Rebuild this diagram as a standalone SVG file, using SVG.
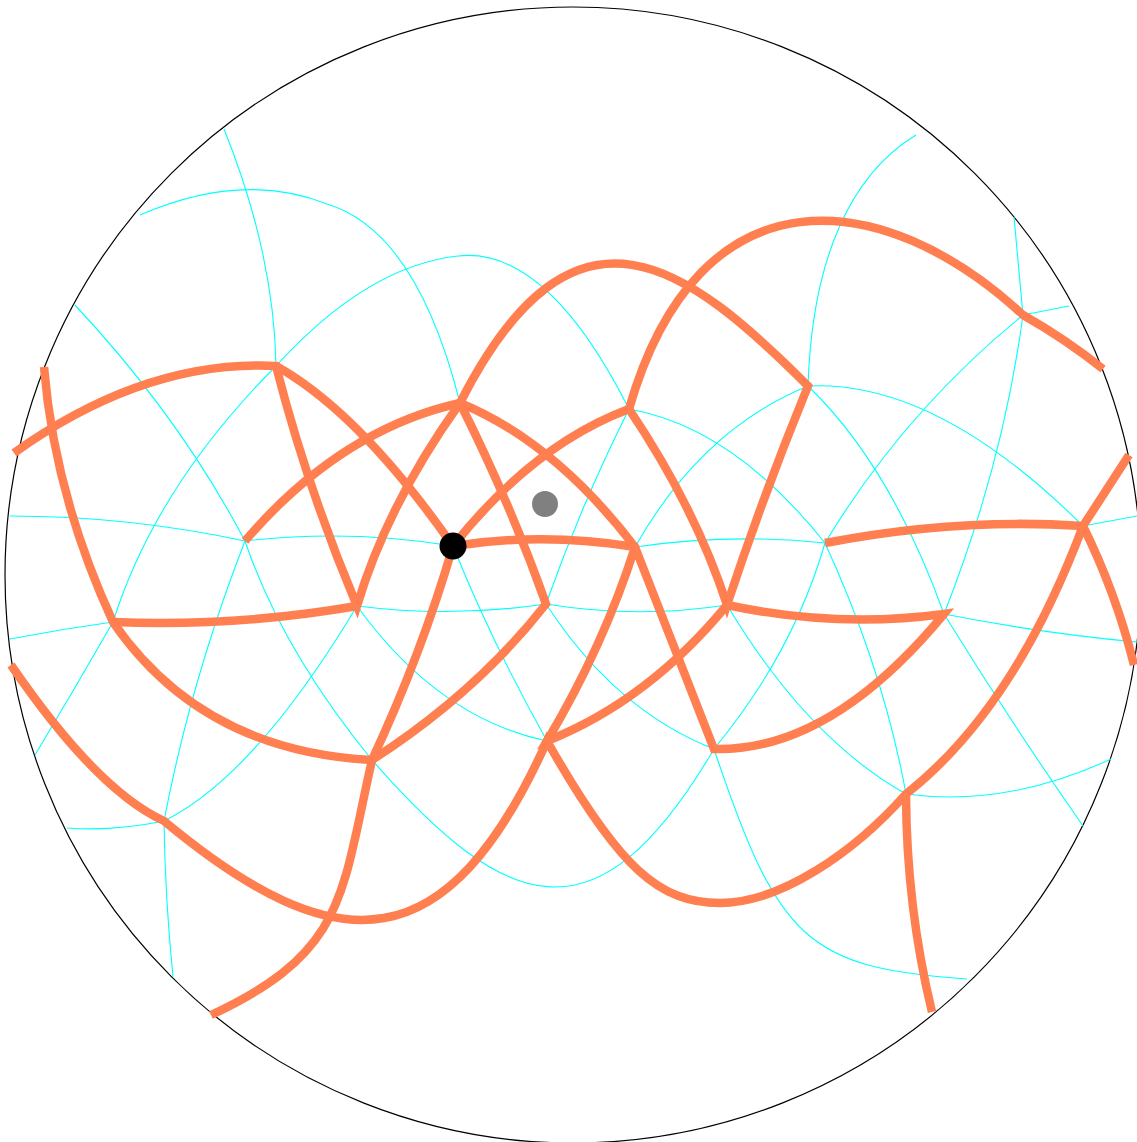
<svg xmlns="http://www.w3.org/2000/svg" width="1137" height="1142" viewBox="0 0 1137 1142">
<style>
.c{fill:none;stroke:#00ffff;stroke-width:1.1}
.o{fill:none;stroke:#ff7f50;stroke-width:8.5;stroke-linecap:butt;stroke-linejoin:miter}
</style>
<rect width="1137" height="1142" fill="#ffffff"/>
<circle cx="573" cy="575" r="568" fill="none" stroke="#000" stroke-width="1.2"/>
<g id="tiling">
<path class="c" d="M224,129 Q274,253 276,366"/>
<path class="c" d="M140,215 Q242.5,170.5 327,204 Q416.5,231 460,403"/>
<path class="c" d="M113,622 Q155.5,487 276,366"/>
<path class="c" d="M276,366 Q367,266 458,256 Q546.6,246 629,409"/>
<path class="c" d="M75,305 Q180,417.5 245,541"/>
<path class="c" d="M245,541 Q282,650 372,760"/>
<path class="c" d="M10,516 Q128,516 245,541"/>
<path class="c" d="M245,541 Q349,529 453,546"/>
<path class="c" d="M245,541 Q191,680 164,821"/>
<path class="c" d="M164,821 Q165,897.5 173,977"/>
<path class="c" d="M10,639 Q62,629 113,622"/>
<path class="c" d="M113,622 Q74,690 35,755"/>
<path class="c" d="M67,828 Q113,831.5 164,821"/>
<path class="c" d="M164,821 Q255,776 357,606"/>
<path class="c" d="M357,606 Q452,618 546,604"/>
<path class="c" d="M357,606 Q438,718 547,741"/>
<path class="c" d="M453,546 Q492,643 547,741"/>
<path class="c" d="M629,409 Q581,505 546,604"/>
<path class="c" d="M546,604 Q637,619 727,605"/>
<path class="c" d="M546,604 Q615.5,710.5 714,749"/>
<path class="c" d="M372,760 C507,914 597,948 714,749"/>
<path class="c" d="M714,749 C778,940 807,968 967,979"/>
<path class="c" d="M629,409 Q732.5,427 825,543"/>
<path class="c" d="M635,547 Q701.5,429.5 808,386"/>
<path class="c" d="M635,547 Q731,533 825,543"/>
<path class="c" d="M808,386 C812,260 850,175 916,135"/>
<path class="c" d="M808,386 Q935.5,379.5 1083,526"/>
<path class="c" d="M808,386 Q890.5,465.5 944,614"/>
<path class="c" d="M825,543 Q793,653.5 714,749"/>
<path class="c" d="M825,543 Q883.5,670.5 906,794"/>
<path class="c" d="M727,605 Q807,738.5 906,794"/>
<path class="c" d="M1023,315 Q1003,464.5 944,614"/>
<path class="c" d="M1023,315 Q903.5,412.5 825,543"/>
<path class="c" d="M1023,315 L1014,217"/>
<path class="c" d="M1023,315 L1069,306"/>
<path class="c" d="M1083,526 L1137,516"/>
<path class="c" d="M944,614 Q1040,633 1137,642"/>
<path class="c" d="M944,614 Q1010,721 1083,826"/>
<path class="c" d="M906,794 Q1006.5,807.5 1111,759"/>
</g>
<g id="connectors">
<path class="o" d="M14,453 Q145,359.5 276,366 Q307.3,488 357,606 Q387,505 460,403 Q511,505 546,604 Q476.7,692.4 372,760 C341,897 346,952 211,1015"/>
<path class="o" d="M44,367 Q54.5,495 113,622 Q201.5,751 372,760 Q421.5,654 453,546 Q544,532 635,547 L714,749 Q830,752 944,614 Q836.5,628.5 727,605 Q648.3,700.7 547,741 Q604,645 635,547 Q554.3,441.7 460,403 Q340,430 245,541"/>
<path class="o" d="M276,366 Q359.5,412.5 453,546 Q533.1,444.9 629,409 Q695.5,508 727,605 Q763,496 808,386 C688,266 574.6,177.3 460,403"/>
<path class="o" d="M629,409 C698.9,165 883.8,186 1023,315 Q1065.5,339 1103,369"/>
<path class="o" d="M113,622 Q236,627 357,606"/>
<path class="o" d="M11,665 Q96.5,790 164,821 C339,966.4 448,961 547,741 C620,870 660,903 720,903 C780,903 853.4,853.2 906,794 Q1014.7,708.4 1083,526 L1129,455"/>
<path class="o" d="M825,543 Q956,517.5 1083,526 Q1116,593 1134,665"/>
<path class="o" d="M906,794 Q906.5,907 932,1012"/>
</g>
<g id="dot-black"><circle cx="453" cy="546" r="13.5" fill="#000"/></g>
<g id="dot-gray"><circle cx="545" cy="504" r="13" fill="#808080"/></g>
</svg>
